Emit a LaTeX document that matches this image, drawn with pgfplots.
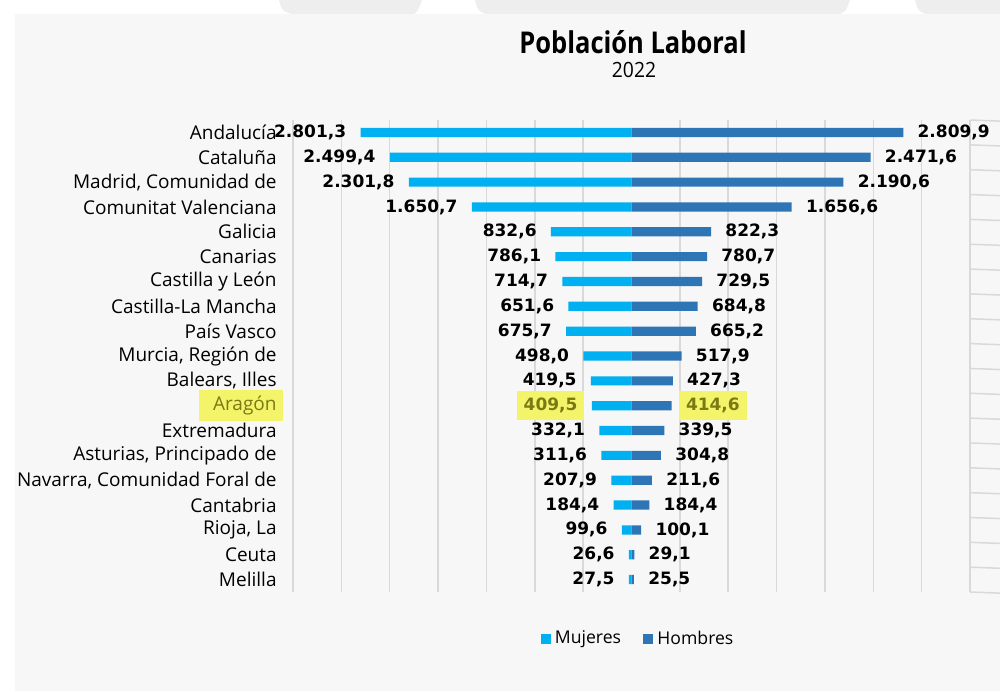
\documentclass[border=0pt]{standalone}
\usepackage{pgfplots}
\pgfplotsset{compat=1.18}
\usepackage{pgfplotstable}
\usepackage{fontspec}
\setmainfont{Open Sans}
\newfontfamily\numfont{DejaVu Sans}
\definecolor{muj}{HTML}{00B0F0}
\definecolor{hom}{HTML}{2E75B6}
\definecolor{bg}{HTML}{F7F7F7}
\definecolor{topg}{HTML}{EEEEEE}
\definecolor{gridc}{HTML}{D9D9D9}
\definecolor{hl}{HTML}{F4F46A}
\definecolor{olv}{HTML}{7A7A14}

\pgfplotstableread{
idx m h
0 2801.3 2809.9
1 2499.4 2471.6
2 2301.8 2190.6
3 1650.7 1656.6
4 832.6 822.3
5 786.1 780.7
6 714.7 729.5
7 651.6 684.8
8 675.7 665.2
9 498.0 517.9
10 419.5 427.3
11 409.5 414.6
12 332.1 339.5
13 311.6 304.8
14 207.9 211.6
15 184.4 184.4
16 99.6 100.1
17 26.6 29.1
18 27.5 25.5
}\data

\newcommand\fmt[1]{\pgfmathprintnumber[fixed,fixed zerofill,precision=1,use comma,1000 sep={.},assume math mode=true]{#1}}

\begin{document}
\begin{tikzpicture}
\useasboundingbox (0,0) rectangle (500pt,345.5pt);
\fill[white] (0,0) rectangle (500pt,345.5pt);
\fill[bg] (7.5pt,0) rectangle (500pt,338.5pt);
\fill[topg] (139.5pt,345.5pt) .. controls (141pt,340pt) .. (146pt,338.5pt) -- (207pt,338.5pt) .. controls (209pt,340pt) .. (211pt,345.5pt) -- cycle;
\fill[topg] (237.5pt,345.5pt) .. controls (239pt,340pt) .. (243pt,338.5pt) -- (420pt,338.5pt) .. controls (423pt,340pt) .. (425pt,345.5pt) -- cycle;
\fill[topg] (457.5pt,345.5pt) .. controls (459pt,340pt) .. (463pt,338.5pt) -- (500pt,338.5pt) -- (500pt,345.5pt) -- cycle;

\node[font=\bfseries\fontsize{15}{18}\selectfont, text=black] at (316.5pt,324.5pt) {\scalebox{0.85}[1]{Población Laboral}};
\node[font=\fontsize{10.5}{12}\selectfont, text=black] at (317pt,310.5pt) {\scalebox{0.92}[1]{2022}};

\begin{axis}[
  at={(146.5pt,49.5pt)}, anchor=south west,
  scale only axis, width=338.5pt, height=236pt,
  xmin=-3500, xmax=3500, ymin=-0.5, ymax=18.5, y dir=reverse,
  xbar, bar width=4.6pt, bar shift=0pt,
  xtick={-3500,-3000,-2500,-2000,-1500,-1000,-500,500,1000,1500,2000,2500,3000,3500},
  xticklabels={},
  xmajorgrids, major grid style={draw=gridc, line width=0.75pt},
  major tick length=0pt,
  ytick={0,...,18},
  yticklabels={{Andalucía},{Cataluña},{Madrid, Comunidad de},{Comunitat Valenciana},{Galicia},{Canarias},{Castilla y León},{Castilla-La Mancha},{País Vasco},{Murcia, Región de},{Balears, Illes},{{\setlength{\fboxsep}{3pt}\colorbox{hl}{\hspace{4pt}\textcolor{olv}{Aragón}}\kern-3pt}},{Extremadura},{Asturias, Principado de},{Navarra, Comunidad Foral de},{Cantabria},{Rioja, La},{Ceuta},{Melilla}},
  yticklabel style={font=\fontsize{9.5}{11}\selectfont, inner sep=0pt, xshift=-8pt, text=black},
  axis line style={draw=none},
  clip=false,
  legend style={at={(0.511,-0.0996)}, anchor=center, draw=none, fill=none,
     legend columns=2, font=\fontsize{8.8}{10}\selectfont,
     /tikz/every even column/.append style={column sep=9pt}},
  legend image code/.code={\fill[#1] (0pt,-2.6pt) rectangle (5.2pt,2.6pt);},
]
\addplot[fill=muj, draw=none, point meta=\thisrow{m},
  visualization depends on={\thisrow{idx} \as \rowid},
  nodes near coords={\ifdim\rowid pt=11pt {\setlength{\fboxsep}{3.5pt}\colorbox{hl}{\textcolor{olv}{\fmt{\pgfplotspointmeta}}}\kern-3.5pt}\else\fmt{\pgfplotspointmeta}\fi},
  nodes near coords style={anchor=east, inner sep=0pt, xshift=-7pt, font=\numfont\bfseries\fontsize{8.5}{10}\selectfont, text=black}]
  table[x expr=-\thisrow{m}, y=idx]{\data};
\addlegendentry{Mujeres}
\addplot[fill=hom, draw=none, point meta=\thisrow{h},
  visualization depends on={\thisrow{idx} \as \rowid},
  nodes near coords={\ifdim\rowid pt=11pt {\setlength{\fboxsep}{3.5pt}\kern-3.5pt\colorbox{hl}{\textcolor{olv}{\fmt{\pgfplotspointmeta}}}}\else\fmt{\pgfplotspointmeta}\fi},
  nodes near coords style={anchor=west, inner sep=0pt, xshift=7pt, font=\numfont\bfseries\fontsize{8.5}{10}\selectfont, text=black}]
  table[x=h, y=idx]{\data};
\addlegendentry{Hombres}
\pgfplotsinvokeforeach{-0.5,0.5,...,18.5}{
  \draw[gridc, line width=0.75pt] (axis cs:3500,#1) -- ++(-3pt,0);
}
\end{axis}
\end{tikzpicture}
\end{document}
